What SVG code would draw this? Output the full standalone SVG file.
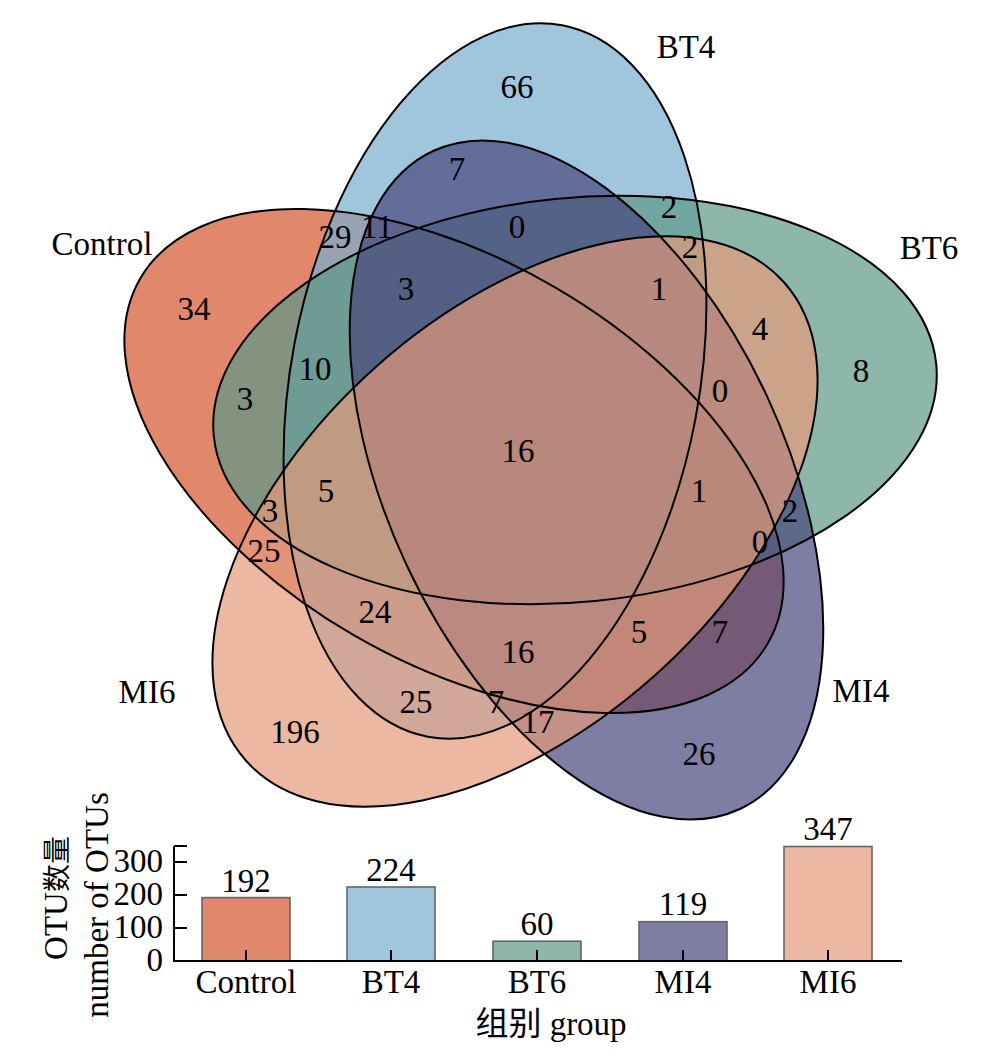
<svg xmlns="http://www.w3.org/2000/svg" width="990" height="1058" viewBox="0 0 990 1058">
<style>
text{font-family:"Liberation Serif","Times New Roman","DejaVu Serif",serif;font-size:33px;fill:#000}
.cjk{font-family:"Noto Sans CJK SC","Noto Sans CJK JP",sans-serif}
.m{text-anchor:middle}
.e{text-anchor:end}
.set{fill-opacity:0.7;stroke:none}
.ol{fill:none;stroke:#000;stroke-width:2}
.bar{stroke:#666;stroke-width:1.6}
.ax{stroke:#000;stroke-width:2;fill:none}
</style>
<defs>
<ellipse id="e-control" cx="454" cy="461" rx="363" ry="201" transform="rotate(30.2 454 461)"/>
<ellipse id="e-bt4" cx="495" cy="381" rx="362" ry="204" transform="rotate(-79.3 495 381)"/>
<ellipse id="e-bt6" cx="575" cy="400" rx="363" ry="202" transform="rotate(-5.7 575 400)"/>
<ellipse id="e-mi4" cx="586.5" cy="480" rx="363" ry="199" transform="rotate(65 586.5 480)"/>
<ellipse id="e-mi6" cx="515" cy="521.5" rx="360" ry="208" transform="rotate(-41.6 515 521.5)"/>
</defs>
<rect width="990" height="1058" fill="#fff"/>

<g id="set-control"><use href="#e-control" class="set" fill="#D3542D"/><text class="m" x="102" y="255">Control</text></g>
<g id="set-bt4"><use href="#e-bt4" class="set" fill="#77AED0"/><text class="m" x="686" y="58">BT4</text></g>
<g id="set-bt6"><use href="#e-bt6" class="set" fill="#5C9887"/><text class="m" x="929" y="259">BT6</text></g>
<g id="set-mi4"><use href="#e-mi4" class="set" fill="#47477E"/><text class="m" x="861" y="702">MI4</text></g>
<g id="set-mi6"><use href="#e-mi6" class="set" fill="#E49A7A"/><text class="m" x="147" y="703">MI6</text></g>

<g id="outlines" class="ol">
<use href="#e-control"/><use href="#e-bt4"/><use href="#e-bt6"/><use href="#e-mi4"/><use href="#e-mi6"/>
</g>

<g id="counts" class="m">
<text x="517" y="98">66</text>
<text x="457" y="180">7</text>
<text x="335" y="248">29</text>
<text x="377" y="238">11</text>
<text x="517" y="238">0</text>
<text x="194" y="320">34</text>
<text x="406" y="300">3</text>
<text x="315" y="380">10</text>
<text x="245" y="410">3</text>
<text x="669" y="218">2</text>
<text x="690" y="258">2</text>
<text x="659" y="300">1</text>
<text x="760" y="340">4</text>
<text x="861" y="382">8</text>
<text x="720" y="402">0</text>
<text x="518" y="462">16</text>
<text x="699" y="502">1</text>
<text x="790" y="522">2</text>
<text x="760" y="553">0</text>
<text x="639" y="643">5</text>
<text x="720" y="643">7</text>
<text x="518" y="663">16</text>
<text x="538" y="733">17</text>
<text x="699" y="765">26</text>
<text x="326" y="502">5</text>
<text x="270" y="522">3</text>
<text x="264" y="562">25</text>
<text x="375" y="623">24</text>
<text x="416" y="713">25</text>
<text x="496" y="713">7</text>
<text x="295" y="743">196</text>
</g>

<g id="bar-chart">
<g id="bars">
<rect class="bar" x="202" y="897.6" width="88" height="63.4" fill="#E0876C"/>
<rect class="bar" x="347" y="887" width="88" height="74" fill="#A0C6DE"/>
<rect class="bar" x="493" y="941.2" width="88" height="19.8" fill="#8DB7AB"/>
<rect class="bar" x="639" y="921.7" width="88" height="39.3" fill="#7E7EA5"/>
<rect class="bar" x="784" y="846.5" width="88" height="114.5" fill="#ECB8A2"/>
</g>
<g id="bar-values" class="m">
<text x="246" y="892">192</text>
<text x="391" y="881">224</text>
<text x="537" y="935">60</text>
<text x="683" y="915">119</text>
<text x="828" y="840">347</text>
</g>
<g id="axes" class="ax">
<path d="M174 846V961H902"/>
<path d="M174 846H187M174 862H187M174 895H187M174 928H187"/>
<path d="M246 961V950M391 961V950M537 961V950M683 961V950M828 961V950"/>
</g>
<g id="y-ticks" class="e">
<text x="163" y="872">300</text>
<text x="163" y="905">200</text>
<text x="163" y="938">100</text>
<text x="163" y="971">0</text>
</g>
<g id="x-labels" class="m">
<text x="246" y="993">Control</text>
<text x="391" y="993">BT4</text>
<text x="537" y="993">BT6</text>
<text x="683" y="993">MI4</text>
<text x="828" y="993">MI6</text>
</g>
<text class="m" transform="translate(67 898) rotate(-90)">OTU<tspan class="cjk" font-size="28">数量</tspan></text>
<text class="m" transform="translate(108 905) rotate(-90)">number of OTUs</text>
<text class="m" x="551" y="1035"><tspan class="cjk">组别</tspan> group</text>
</g>
</svg>
